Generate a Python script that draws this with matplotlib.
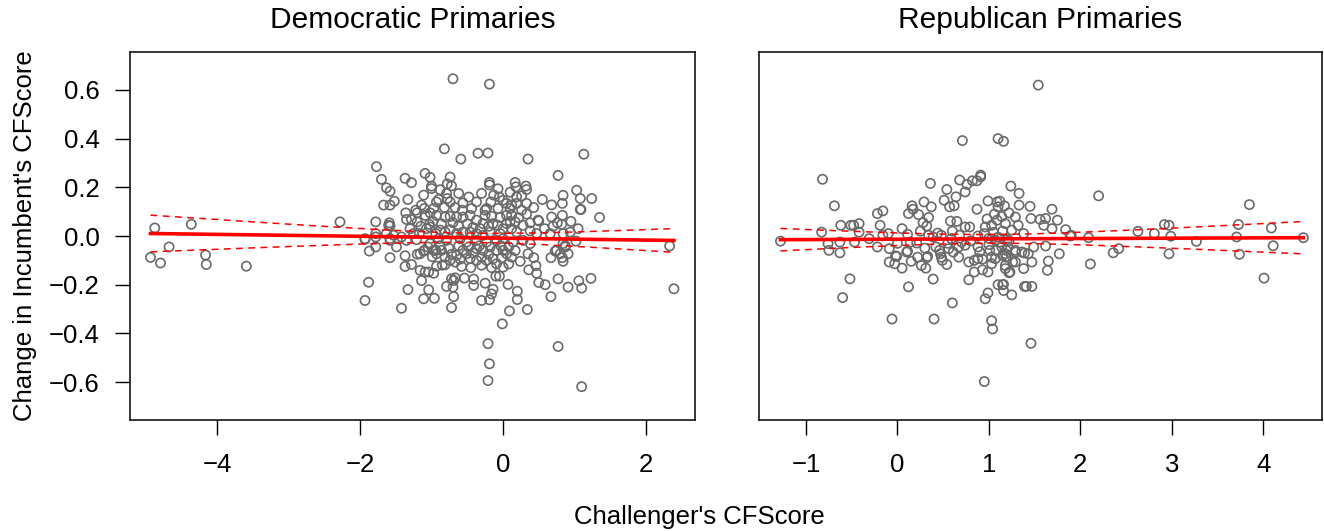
import numpy as np
import matplotlib.pyplot as plt

plt.rcParams['font.family'] = ['Liberation Sans', 'DejaVu Sans']

# (challenger CFScore, change in incumbent CFScore) per race
dem_points = np.array([
    (-4.93, -0.088), (-4.87, 0.033), (-4.79, -0.111), (-4.67, -0.045), (-4.36, 0.048),
    (-4.16, -0.078), (-4.15, -0.117), (-3.59, -0.124), (-2.28, 0.058),
    (-1.93, -0.265), (-1.88, -0.190), (-1.42, -0.297), (-1.33, -0.220), (-1.11, -0.258),
    (-1.14, -0.183), (-1.78, 0.058), (-1.93, -0.014), (-1.78, -0.004), (-1.78, -0.045),
    (-1.87, -0.062), (-1.58, -0.089), (-1.37, -0.081), (-1.37, -0.125), (-1.28, -0.117),
    (-1.20, -0.075), (-1.11, -0.062), (-1.16, -0.141), (-1.09, -0.148), (-1.04, -0.148),
    (-0.97, -0.153),
    (-1.77, 0.285), (-1.70, 0.233), (-1.63, 0.198), (-1.58, 0.184), (-1.67, 0.127),
    (-1.58, 0.127), (-1.52, 0.143), (-1.37, 0.237), (-1.28, 0.219), (-1.33, 0.150),
    (-1.09, 0.257), (-1.02, 0.241), (-1.11, 0.168), (-1.00, 0.195), (-1.00, 0.205),
    (-0.79, 0.175), (-0.78, 0.154),
    (-0.70, 0.646), (-0.19, 0.624), (-0.82, 0.358), (-0.35, 0.340), (-0.21, 0.341),
    (-0.59, 0.316), (0.35, 0.316), (1.13, 0.336), (-0.74, 0.242), (-0.78, 0.214),
    (-0.72, 0.206), (-0.19, 0.220), (-0.19, 0.210), (-0.07, 0.194), (0.17, 0.220),
    (0.18, 0.202), (0.32, 0.205), (0.33, 0.191), (0.77, 0.249), (1.03, 0.188),
    (1.08, 0.154), (1.24, 0.154), (1.08, 0.109), (0.84, 0.167), (0.83, 0.134),
    (0.68, 0.128), (1.35, 0.076), (2.33, -0.041), (2.39, -0.217),
    (-1.04, -0.221), (-0.96, -0.256), (-0.93, -0.124), (-0.81, -0.118), (-0.72, -0.176),
    (-0.67, -0.172), (-0.54, -0.173), (-0.69, -0.183), (-0.79, -0.207), (-0.70, -0.210),
    (-0.69, -0.249), (-0.72, -0.294), (-0.41, -0.177), (-0.41, -0.203), (-0.25, -0.194),
    (-0.14, -0.219), (-0.16, -0.238), (-0.19, -0.262), (-0.30, -0.265), (-0.10, -0.165),
    (-0.05, -0.165), (0.07, -0.199), (0.20, -0.227), (0.20, -0.261), (0.09, -0.308),
    (0.34, -0.302), (-0.01, -0.361), (-0.21, -0.442), (-0.19, -0.525), (-0.21, -0.594),
    (0.77, -0.454), (1.10, -0.619), (0.50, -0.191), (0.59, -0.200), (0.67, -0.249),
    (0.77, -0.176), (0.91, -0.210), (1.06, -0.184), (1.10, -0.214), (1.23, -0.174),
    (0.47, -0.153), (0.46, -0.122), (0.36, -0.139), (0.43, -0.089), (0.24, -0.104),
    (0.35, -0.073), (0.67, -0.089), (0.84, -0.104), (0.83, -0.089), (0.91, -0.073),
    (0.73, -0.062), (0.87, -0.045),
    (-1.22, 0.106), (-1.14, 0.127), (-1.10, 0.113), (-0.93, 0.140), (-0.82, 0.117),
    (-0.74, 0.140), (-0.67, 0.117), (-0.56, 0.136), (-0.57, 0.106), (-0.44, 0.113),
    (-0.37, 0.140), (-0.23, 0.113), (-0.17, 0.140), (-0.07, 0.113), (0.05, 0.134),
    (0.10, 0.113), (0.19, 0.134), (0.33, 0.134), (0.43, 0.117), (0.83, 0.085),
    (1.09, 0.109),
    (-1.36, 0.095), (-1.35, 0.068), (-1.28, 0.068), (-1.20, 0.095), (-1.20, 0.058),
    (-1.09, 0.085), (-1.02, 0.095), (-0.93, 0.085), (-1.03, 0.048), (-0.81, 0.078),
    (-0.74, 0.081), (-0.65, 0.078), (-0.56, 0.078), (-0.46, 0.085), (-0.37, 0.065),
    (-0.25, 0.085), (-0.16, 0.081), (-0.04, 0.076), (0.05, 0.085), (0.12, 0.085),
    (0.26, 0.106), (-0.28, 0.051), (-0.14, 0.051), (0.05, 0.051), (0.17, 0.058),
    (0.28, 0.044), (0.38, 0.054), (0.49, 0.065), (0.68, 0.078), (0.76, 0.054),
    (0.82, 0.048), (-1.59, 0.054), (-1.60, 0.044),
    (-1.93, -0.011), (-1.78, 0.010), (-1.63, 0.010), (-1.58, -0.011), (-1.53, 0.003),
    (-1.42, -0.004), (-1.35, -0.018), (-1.30, 0.030), (-1.25, 0.010), (-1.17, 0.010),
    (-1.21, -0.015), (-1.07, 0.030), (-1.02, 0.037), (-0.94, 0.010), (-0.90, -0.011),
    (-0.88, 0.024), (-0.81, 0.016), (-0.79, -0.018), (-0.74, 0.026), (-0.65, 0.010),
    (-0.60, -0.011), (-0.56, 0.016), (-0.51, -0.025), (-0.46, 0.016), (-0.37, 0.010),
    (-0.37, -0.018), (-0.28, 0.003), (-0.23, -0.025), (-0.18, 0.016), (-0.09, -0.018),
    (-0.04, 0.010), (0.00, -0.011), (0.12, 0.030), (0.14, -0.025), (0.19, 0.016),
    (0.28, -0.018), (0.38, 0.021), (0.38, -0.031), (0.47, 0.010), (0.66, 0.010),
    (0.84, 0.010), (0.94, 0.016), (1.02, -0.021), (0.84, -0.031), (0.87, -0.040),
    (-1.49, -0.045), (-1.02, -0.031), (-0.97, -0.059), (-0.93, -0.073), (-0.86, -0.059),
    (-0.81, -0.087), (-0.74, -0.100), (-0.67, -0.107), (-0.65, -0.080), (-0.56, -0.059),
    (-0.51, -0.073), (-0.46, -0.093), (-0.37, -0.100), (-0.37, -0.052), (-0.30, -0.087),
    (-0.28, -0.059), (-0.23, -0.100), (-0.14, -0.093), (-0.09, -0.059), (0.00, -0.059),
    (0.05, -0.073), (0.12, -0.087), (-0.09, -0.114), (0.00, -0.128), (0.75, -0.059),
    (0.80, -0.073),
    (-0.90, 0.150), (-0.97, 0.113), (-0.13, 0.168), (0.00, 0.147), (0.12, 0.127),
    (0.19, 0.161), (0.50, 0.062), (-0.25, 0.106),
    (-1.58, 0.041), (-1.58, -0.018), (-1.16, -0.073), (-1.10, -0.059), (-0.94, -0.059),
    (-1.05, -0.045), (-0.88, -0.040), (-0.76, -0.050), (-0.62, -0.040), (-0.48, -0.045),
    (-0.33, -0.040), (-0.18, -0.045), (-0.03, -0.040), (0.08, -0.045),
    (-0.99, -0.085), (-0.72, -0.075), (-0.60, -0.095), (-0.42, -0.070), (-0.20, -0.075),
    (-0.02, -0.090), (0.17, -0.060),
    (-0.85, -0.120), (-0.58, -0.125), (-0.45, -0.130), (-0.30, -0.120), (-0.16, -0.130),
    (0.08, -0.115),
    (-1.15, 0.040), (-0.98, 0.060), (-0.86, 0.050), (-0.70, 0.055), (-0.62, 0.040),
    (-0.50, 0.050), (-0.42, 0.035), (-0.32, 0.030), (-0.20, 0.040), (-0.08, 0.045),
    (0.00, 0.030), (0.10, 0.060), (0.22, 0.075), (0.33, 0.090), (0.58, 0.030),
    (0.70, 0.040), (0.95, 0.060), (1.05, 0.030),
    (-0.88, 0.190), (-0.62, 0.175), (-0.48, 0.160), (-0.30, 0.175), (-0.05, 0.160),
    (0.10, 0.180), (0.26, 0.165), (0.55, 0.150),
])

rep_points = np.array([
    (0.71, 0.392), (1.10, 0.400), (1.16, 0.389), (-0.82, 0.233), (-0.69, 0.124),
    (0.36, 0.216), (0.68, 0.230), (0.74, 0.181), (0.76, 0.212), (0.82, 0.227),
    (0.87, 0.227), (0.91, 0.243), (0.91, 0.250),
    (0.54, 0.191), (0.64, 0.161), (0.51, 0.147), (0.57, 0.120), (0.62, 0.124),
    (0.29, 0.140), (0.37, 0.120), (0.16, 0.124), (0.17, 0.110), (0.12, 0.092),
    (0.23, 0.088), (0.34, 0.076), (0.28, 0.055), (0.32, 0.041), (0.58, 0.061),
    (0.87, 0.110), (0.99, 0.144), (1.09, 0.140), (1.12, 0.143), (1.10, 0.120),
    (1.17, 0.124), (1.24, 0.205), (1.33, 0.175), (1.33, 0.127),
    (-0.22, 0.092), (-0.16, 0.103), (-0.19, 0.044), (-0.16, 0.003), (-0.62, 0.044),
    (-0.51, 0.044), (-0.48, 0.044), (-0.42, 0.051), (-0.42, 0.016), (-0.83, 0.016),
    (-1.28, -0.021),
    (-0.76, -0.031), (-0.63, -0.025), (-0.47, -0.025), (-0.31, -0.011), (-0.75, -0.059),
    (-0.63, -0.069), (-0.22, -0.045), (-0.09, -0.052), (-0.02, -0.082),
    (0.11, 0.007), (0.14, -0.025), (0.21, -0.029), (0.10, -0.066), (0.22, -0.087),
    (0.33, -0.084), (0.34, 0.003), (0.39, -0.004), (0.44, 0.012),
    (0.48, 0.003), (0.59, -0.011), (0.68, 0.003), (0.74, 0.037), (0.79, 0.037),
    (0.88, 0.000), (0.96, 0.037), (1.03, 0.044), (1.09, 0.065), (1.18, 0.051),
    (1.25, 0.024), (1.32, 0.044), (1.38, 0.010),
    (0.46, -0.059), (0.56, -0.052), (0.61, -0.066), (0.67, -0.045), (0.74, -0.038),
    (0.88, -0.045), (1.01, -0.059), (1.07, -0.018), (1.12, -0.025), (1.14, -0.045),
    (1.21, -0.045), (1.29, -0.059), (1.36, -0.066), (0.48, -0.087), (0.67, -0.087),
    (0.88, -0.093), (1.03, -0.087), (1.18, -0.073),
    (-0.52, -0.176), (-0.60, -0.253), (-0.06, -0.341), (0.40, -0.341), (0.12, -0.209),
    (0.39, -0.177), (0.60, -0.275),
    (-0.09, -0.107), (-0.03, -0.114), (0.05, -0.132), (-0.01, -0.084),
    (0.15, -0.104), (0.26, -0.121), (0.31, -0.132), (0.32, -0.089), (0.11, -0.062),
    (0.47, -0.073), (0.49, -0.100), (0.54, -0.117),
    (0.78, -0.180), (0.84, -0.148), (0.93, -0.139), (0.99, -0.148), (0.84, -0.100),
    (0.78, -0.107), (0.93, -0.095), (1.03, -0.114), (1.07, -0.093),
    (0.96, -0.258), (0.99, -0.234), (1.10, -0.200), (1.15, -0.200), (1.16, -0.224),
    (1.25, -0.242), (1.03, -0.348), (1.04, -0.382), (0.95, -0.598),
    (1.18, -0.121), (1.23, -0.148), (1.29, -0.107), (1.38, -0.134), (1.39, -0.207),
    (1.54, 0.620), (2.20, 0.165), (1.45, 0.122), (1.69, 0.110),
    (1.46, 0.072), (1.56, 0.068), (1.62, 0.072), (1.75, 0.065), (1.29, 0.078),
    (1.60, 0.044), (1.69, 0.030), (1.84, 0.026), (1.89, 0.000), (2.09, -0.007),
    (2.63, 0.019), (2.81, 0.010), (2.92, 0.047), (2.97, 0.044), (2.99, -0.001),
    (3.27, -0.022), (3.71, -0.004), (3.73, 0.047), (3.85, 0.129), (4.09, 0.033),
    (4.11, -0.040), (4.44, -0.007), (3.74, -0.075), (2.97, -0.073), (2.36, -0.069),
    (2.42, -0.052), (1.77, -0.073),
    (4.01, -0.173), (2.11, -0.115), (1.46, -0.441), (1.41, -0.207), (1.47, -0.207),
    (1.16, -0.199), (1.64, -0.141), (1.65, -0.103), (1.47, -0.107), (1.22, -0.151),
    (1.18, -0.134), (1.26, -0.107), (1.19, -0.087),
    (1.62, -0.041), (1.49, -0.045), (1.39, -0.070), (1.43, -0.073), (1.29, -0.066),
    (1.19, -0.059), (1.90, 0.003),
    (0.95, 0.010), (1.00, -0.010), (1.05, 0.015), (1.10, -0.005), (1.15, 0.020),
    (1.20, -0.015), (1.00, -0.035), (1.08, -0.060), (1.15, -0.080), (1.22, -0.020),
    (0.98, 0.070), (1.06, 0.090), (1.14, 0.080), (1.22, 0.095), (0.90, -0.065),
    (0.80, -0.020), (0.70, -0.025), (0.60, 0.020), (0.55, -0.030), (0.65, 0.060),
    (0.42, -0.045), (0.30, -0.050), (0.25, 0.020), (0.05, 0.030), (0.00, -0.030),
    (-0.10, 0.010),
])

# OLS fit and 95% band: centre line a + b*x, half width sqrt(se0^2 + (se_b*(x - xbar))^2)
dem_fit = dict(a=-0.009, b=-0.0039, se0=0.019, se_b=0.0161, xbar=-0.4)
rep_fit = dict(a=-0.0132, b=0.0014, se0=0.018, se_b=0.0186, xbar=1.0)

titles = ["Democratic Primaries", "Republican Primaries"]
dem_xticks = [-4, -2, 0, 2]
rep_xticks = [-1, 0, 1, 2, 3, 4]
yticks = [-0.6, -0.4, -0.2, 0.0, 0.2, 0.4, 0.6]

W, H = 1324, 531
FS = 18.5
fig = plt.figure(figsize=(W / 100, H / 100), dpi=100)
ax1 = fig.add_axes([130 / W, 1 - 420 / H, 565 / W, 368 / H])
ax2 = fig.add_axes([759 / W, 1 - 420 / H, 563 / W, 368 / H])


def draw_panel(ax, pts, fit, xlim, xticks, title):
    ax.scatter(pts[:, 0], pts[:, 1], s=44, facecolors='none',
               edgecolors='#6a6a6a', linewidths=1.2, zorder=2)
    xs = np.linspace(pts[:, 0].min(), pts[:, 0].max(), 200)
    yhat = fit['a'] + fit['b'] * xs
    half = np.sqrt(fit['se0'] ** 2 + (fit['se_b'] * (xs - fit['xbar'])) ** 2)
    ax.plot(xs, yhat, color='red', lw=2.6, zorder=3)
    ax.plot(xs, yhat + half, color='red', lw=1.1, ls=(0, (4.5, 3.5)), zorder=3)
    ax.plot(xs, yhat - half, color='red', lw=1.1, ls=(0, (4.5, 3.5)), zorder=3)
    ax.set_xlim(*xlim)
    ax.set_ylim(-0.756, 0.756)
    ax.set_xticks(xticks)
    # title sits in figure coordinates vertically, centred over the panel
    trans = ax.get_xaxis_transform().__class__(ax.transAxes, fig.transFigure)
    ax.text(0.5, 1 - 20 / H, title, transform=trans,
            ha='center', va='center', fontsize=21.5)
    ax.tick_params(direction='out', length=11, width=1, labelsize=FS, pad=13)
    for sp in ax.spines.values():
        sp.set_linewidth(1.1)


draw_panel(ax1, dem_points, dem_fit, (-5.217, 2.685), dem_xticks, titles[0])
draw_panel(ax2, rep_points, rep_fit, (-1.515, 4.644), rep_xticks, titles[1])

ax1.set_yticks(yticks)
ax1.set_yticklabels([f"{v:.1f}".replace('-', '\u2212') for v in yticks])
ax1.tick_params(axis='y', pad=11)
ax2.set_yticks([])

fig.text(25 / W, 1 - 236 / H, "Change in Incumbent's CFScore", fontsize=FS,
         rotation=90, ha='center', va='center')
fig.text(699 / W, 1 - 517 / H, "Challenger's CFScore", fontsize=FS,
         ha='center', va='center')

fig.savefig('out.png', dpi=100)
